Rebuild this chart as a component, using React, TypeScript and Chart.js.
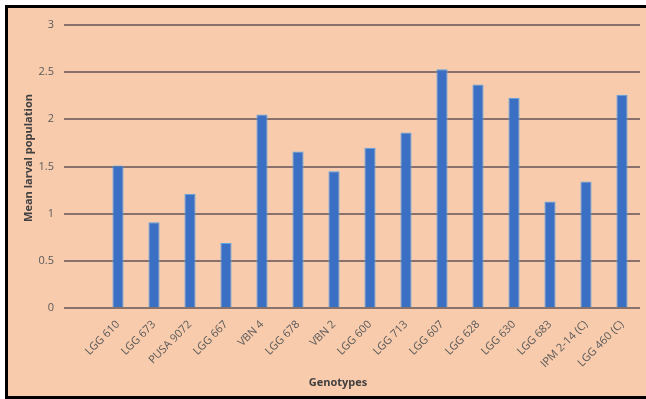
import React, { useEffect, useRef } from "react";
import { Chart, registerables } from "chart.js";

Chart.register(...registerables);

const genotypes = [
  "",
  "LGG 610",
  "LGG 673",
  "PUSA 9072",
  "LGG 667",
  "VBN 4",
  "LGG 678",
  "VBN 2",
  "LGG 600",
  "LGG 713",
  "LGG 607",
  "LGG 628",
  "LGG 630",
  "LGG 683",
  "IPM 2-14 (C)",
  "LGG 460 (C)",
];

const meanLarval = [
  null, 1.51, 0.91, 1.21, 0.69, 2.05, 1.66, 1.45, 1.7, 1.86, 2.53, 2.37, 2.23, 1.13, 1.34, 2.26,
];

const yTicks = [0, 0.5, 1, 1.5, 2, 2.5, 3];

const xTitle = "Genotypes";
const yTitle = "Mean larval population";

export default function App() {
  const ref = useRef<HTMLCanvasElement | null>(null);

  useEffect(() => {
    document.body.style.margin = "0";
    const canvas = ref.current;
    if (!canvas) return;

    const titlesPlugin = {
      id: "axisTitles",
      afterDraw(chart: any) {
        const ctx = chart.ctx;
        ctx.save();
        ctx.fillStyle = "#404040";
        ctx.font = "bold 11px 'Open Sans', 'Noto Sans', sans-serif";
        ctx.textAlign = "center";
        ctx.textBaseline = "middle";
        ctx.fillText(xTitle, 330, 375);
        ctx.translate(21, 150);
        ctx.rotate(-Math.PI / 2);
        ctx.fillText(yTitle, 0, 0);
        ctx.restore();
      },
    };

    const chart = new Chart(canvas, {
      type: "bar",
      data: {
        labels: genotypes,
        datasets: [
          {
            data: meanLarval as any,
            backgroundColor: "#3b6fc4",
            borderColor: "#55a6e6",
            borderWidth: 1,
            barPercentage: 0.31,
            categoryPercentage: 1,
          },
        ],
      },
      options: {
        animation: false,
        responsive: false,
        maintainAspectRatio: false,
        layout: { padding: { top: 17, right: 6, left: 0, bottom: 8 } },
        plugins: {
          legend: { display: false },
          tooltip: { enabled: false },
        },
        scales: {
          x: {
            grid: { display: false, drawTicks: false },
            border: { display: false },
            ticks: {
              color: "#5a5a5a",
              font: { family: "'Open Sans', 'Noto Sans', sans-serif", size: 11 },
              maxRotation: 45,
              minRotation: 45,
              autoSkip: false,
              padding: 10,
            },
            afterFit: (s: any) => {
              s.height = 80;
            },
          },
          y: {
            min: 0,
            max: 3,
            afterBuildTicks: (s: any) => {
              s.ticks = yTicks.map((v) => ({ value: v }));
            },
            grid: {
              color: "#8a726a",
              lineWidth: 2,
              drawTicks: false,
            },
            border: { display: false },
            ticks: {
              color: "#5a5a5a",
              font: { family: "'Open Sans', 'Noto Sans', sans-serif", size: 11 },
              padding: 10,
              callback: (v: any) => String(v),
            },
            afterFit: (s: any) => {
              s.width = 56;
            },
          },
        },
      },
      plugins: [titlesPlugin],
    });

    return () => chart.destroy();
  }, []);

  return (
    <div style={{ width: 646, height: 399, background: "#ffffff", position: "relative", overflow: "hidden" }}>
      <div
        style={{
          position: "absolute",
          left: 5,
          top: 5,
          width: 660,
          height: 388,
          borderLeft: "3px solid #000",
          borderTop: "3px solid #000",
          borderBottom: "3px solid #000",
          background: "#f8cbad",
        }}
      >
        <canvas ref={ref} width={638} height={388} style={{ display: "block" }} />
      </div>
    </div>
  );
}
